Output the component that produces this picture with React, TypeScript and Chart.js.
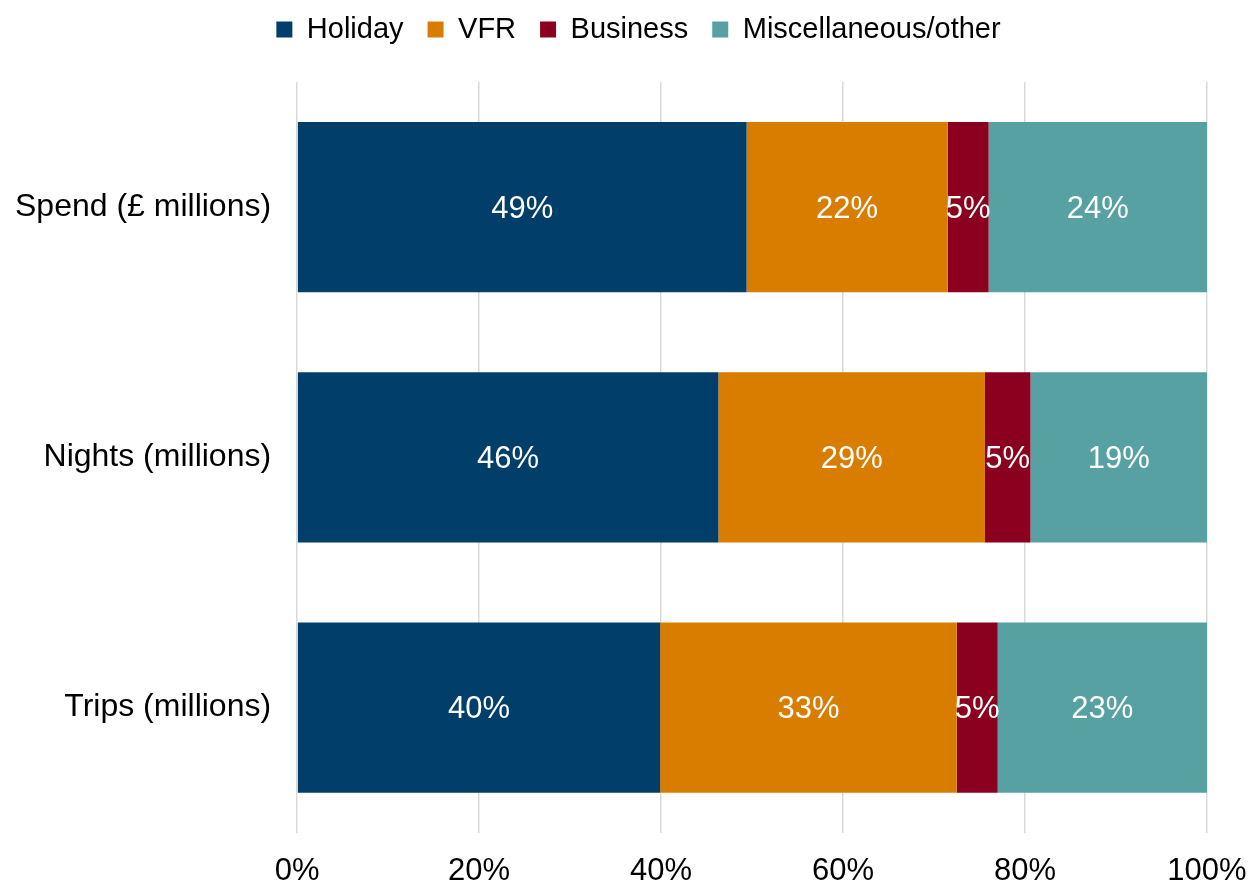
import React, { useEffect, useRef } from "react";
import { Chart, registerables } from "chart.js";

Chart.register(...registerables);

const categories = ["Spend (£ millions)", "Nights (millions)", "Trips (millions)"];
const holiday = [49.4, 46.3, 39.9];
const vfr = [22.1, 29.3, 32.6];
const business = [4.5, 5.0, 4.5];
const misc = [24.0, 19.4, 23.0];
const xTicks = ["0%", "20%", "40%", "60%", "80%", "100%"];

const FONT = "'Liberation Sans', Arial, sans-serif";

const labelPlugin = {
  id: "barLabels",
  afterDatasetsDraw(chart: any) {
    const ctx = chart.ctx;
    ctx.save();
    ctx.fillStyle = "#ffffff";
    ctx.font = `31px ${FONT}`;
    ctx.textAlign = "center";
    ctx.textBaseline = "middle";
    chart.data.datasets.forEach((ds: any, di: number) => {
      const meta = chart.getDatasetMeta(di);
      meta.data.forEach((el: any, i: number) => {
        const v = ds.data[i];
        const cx = (el.x + el.base) / 2;
        ctx.fillText(Math.round(v) + "%", cx, el.y + 2);
      });
    });
    ctx.restore();
  },
};

const legendSpace = {
  id: "legendSpace",
  beforeInit(chart: any) {
    const orig = chart.legend.fit;
    chart.legend.fit = function () {
      orig.bind(chart.legend)();
      this.height += 28;
    };
  },
  afterLayout(chart: any) {
    chart.legend.left += 19;
    chart.legend.right += 19;
  },
};

export default function App() {
  const ref = useRef<HTMLCanvasElement>(null);
  useEffect(() => {
    const chart = new Chart(ref.current as HTMLCanvasElement, {
      type: "bar",
      data: {
        labels: categories,
        datasets: [
          { label: "Holiday", data: holiday, backgroundColor: "#023E6A" },
          { label: "VFR", data: vfr, backgroundColor: "#D97D00" },
          { label: "Business", data: business, backgroundColor: "#8A001E" },
          { label: "Miscellaneous/other", data: misc, backgroundColor: "#58A1A3" },
        ],
      },
      options: {
        indexAxis: "y",
        animation: false,
        responsive: true,
        maintainAspectRatio: false,
        layout: { padding: { left: -11, right: 0, top: -9, bottom: -26 } },
        datasets: { bar: { barPercentage: 0.68, categoryPercentage: 1 } },
        plugins: {
          tooltip: { enabled: false },
          legend: {
            position: "top",
            labels: {
              boxWidth: 16,
              boxHeight: 16,
              padding: 24,
              color: "#000",
              font: { size: 29, family: FONT },
            },
          },
        },
        scales: {
          x: {
            stacked: true,
            min: 0,
            max: 100,
            afterFit: (scale: any) => {
              scale.paddingRight = 43;
            },
            ticks: {
              stepSize: 20,
              color: "#000",
              font: { size: 31, family: FONT },
              padding: 20,
              callback: (_v: any, i: number) => xTicks[i],
            },
            grid: { color: "#d9d9d9", lineWidth: 1.5, drawTicks: false },
            border: { display: false },
          },
          y: {
            stacked: true,
            ticks: {
              color: "#000",
              font: { size: 32, family: FONT },
              padding: 26,
            },
            grid: { display: false, drawTicks: false },
            border: { display: false },
          },
        },
      },
      plugins: [labelPlugin, legendSpace],
    });
    return () => chart.destroy();
  }, []);
  return (
    <div style={{ position: "fixed", left: 0, top: 0, width: 1250, height: 884, background: "#fff" }}>
      <canvas ref={ref} />
    </div>
  );
}
